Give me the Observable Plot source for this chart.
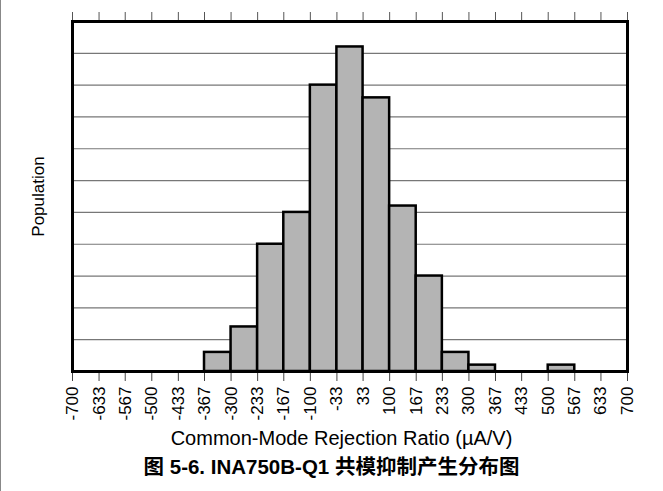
<!DOCTYPE html>
<html><head><meta charset="utf-8">
<script src="https://cdn.jsdelivr.net/npm/d3@7"></script>
<script src="https://cdn.jsdelivr.net/npm/@observablehq/plot@0.6"></script>
<style>
html,body{margin:0;padding:0;background:#fff;}
#wrap{position:relative;width:663px;height:491px;overflow:hidden;font-family:"Liberation Sans",Arial,sans-serif;background:#fff;}
#edge{position:absolute;left:0;top:0;width:1px;height:491px;background:#888;z-index:5;}
#chart{position:absolute;left:0;top:0;}
#xlabel{position:absolute;left:0;width:683px;top:427px;text-align:center;font-size:20px;line-height:22px;color:#000;}
#caption{position:absolute;left:0;width:663px;top:455px;text-align:center;font-size:20.5px;line-height:24px;font-weight:bold;color:#000;font-family:"Liberation Sans",Arial,"Noto Sans CJK SC",sans-serif;}
</style>
</head><body>
<div id="wrap"><div id="chart"></div><div id="edge"></div>
<div id="xlabel"></div><div id="caption"></div></div>
<script>
const edgeLabels = ["-700","-633","-567","-500","-433","-367","-300","-233","-167","-100","-33","33","100","167","233","300","367","433","500","567","633","700"];
const counts = [0,0,0,0,0,3,7,20,25,45,51,43,26,15,3,1,0,0,1,0,0];
const gridValues = [5,10,15,20,25,30,35,40,45,50];
const yLabel = "Population";
const xLabel = "Common-Mode Rejection Ratio (\u00b5A/V)";
const caption = "图 5-6. INA750B-Q1 共模抑制产生分布图";

const edges = edgeLabels.map(Number);
const bins = counts.map((c, i) => ({x1: edges[i], x2: edges[i + 1], count: c})).filter(d => d.count > 0);
const fmt = d => edgeLabels[edges.indexOf(d)];

const chart = Plot.plot({
  width: 663,
  height: 420,
  marginLeft: 72,
  marginRight: 36,
  marginTop: 21,
  marginBottom: 49,
  style: {fontFamily: "'Liberation Sans', Arial, sans-serif", color: "#000", background: "#fff"},
  x: {domain: [-700, 700], axis: null},
  y: {domain: [0, 55], axis: null},
  marks: [
    Plot.ruleY(gridValues, {stroke: "#777", strokeWidth: 1.2}),
    Plot.rectY(bins, {x1: "x1", x2: "x2", y: "count", fill: "#b4b4b4", stroke: "#000", strokeWidth: 2.5}),
    Plot.axisX(edges, {anchor: "bottom", tickSize: 10, tickPadding: 5, tickRotate: -90, fontSize: 17, tickFormat: fmt, label: null, stroke: "#444"}),
    Plot.axisX(edges, {anchor: "top", tickSize: 10, tickFormat: () => "", label: null, stroke: "#555"}),
    Plot.frame({stroke: "#000", strokeWidth: 3}),
    Plot.text([yLabel], {frameAnchor: "left", dx: -34, rotate: -90, textAnchor: "middle", fontSize: 17, fill: "#000"})
  ]
});
document.getElementById("chart").appendChild(chart);
document.getElementById("xlabel").textContent = xLabel;
document.getElementById("caption").textContent = caption;
</script>
</body></html>
